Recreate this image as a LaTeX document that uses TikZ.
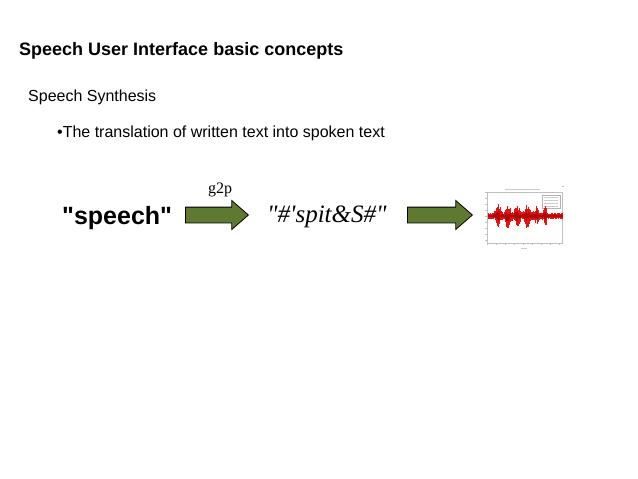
\documentclass[tikz,border=0pt]{standalone}
\usepackage{fontspec}
\setmainfont{Liberation Serif}
\setsansfont{Liberation Sans}
\newfontfamily\sfraw{Liberation Sans}
\newfontfamily\rmraw{Liberation Serif}
\usetikzlibrary{shapes.arrows}
\definecolor{olivearrow}{RGB}{95,121,48}
\definecolor{wavered}{RGB}{232,18,18}
\definecolor{wavedark}{RGB}{170,10,10}
\begin{document}
\begin{tikzpicture}[x=1pt,y=-1pt,
  bigarrow/.style={single arrow, draw=black, line width=0.8pt, fill=olivearrow,
    inner xsep=0pt, inner ysep=7.5pt, minimum height=63pt,
    single arrow head extend=6.5pt, single arrow tip angle=82, anchor=west},
  sans/.style={font=\sffamily, anchor=base west, inner sep=0pt}]
\useasboundingbox[fill=white] (0,0) rectangle (638,479);
% texts
\node[sans, font=\sffamily\bfseries\fontsize{18}{20}\selectfont] (title) at (19,55) {Speech User Interface basic concepts};
\node[sans, font=\sffamily\fontsize{16}{18}\selectfont] (sub) at (28,101) {Speech Synthesis};
\node[sans, font=\sffamily\fontsize{16}{18}\selectfont] (bul) at (57,137) {•The translation of written text into spoken text};
\node[sans, font=\sfraw\bfseries\fontsize{25}{28}\selectfont] (word) at (62,224) {"speech"};
\node[anchor=base west, inner sep=0pt, font=\rmraw\itshape\fontsize{25}{28}\selectfont] (phon) at (267,222) {"\#'spit\&S\#"};
\node[anchor=base west, inner sep=0pt, font=\fontsize{16}{18}\selectfont] (g2p) at (208,193) {g2p};
% arrows
\node[bigarrow] (a1) at (185,215) {};
\node[bigarrow, minimum height=65pt] (a2) at (407,215) {};
% waveform plot
\begin{scope}
\fill[white] (482,184) rectangle (566,252);
\draw[black!25, line width=0.4pt] (487,192) rectangle (562,243);
\node[inner sep=0pt] (plot) at (524,217) {};
\draw[black!20, line width=0.6pt] (505,189) -- (540,189);
\draw[black!30, line width=0.3pt] (542,195) rectangle (560,208);
\foreach \yy in {197,200,203,206}{\draw[black!20, line width=0.3pt] (544,\yy) -- (558,\yy);}
\foreach \xx in {487,496,505,514,523,532,541,550,559}{\draw[black!25,line width=0.3pt] (\xx,243) -- (\xx,245);}
\foreach \yy in {192,198,204,210,216,222,228,234,240}{\draw[black!25,line width=0.3pt] (485,\yy) -- (487,\yy);}
\draw[black!20, line width=0.5pt] (521,248) -- (527,248);
\draw[black!25, line width=0.4pt] (562,186) -- (564,186);
\pgfmathsetseed{11}
\foreach \i in {0,...,148}{
  \pgfmathsetmacro{\xx}{488+\i*0.5}
  \pgfmathsetmacro{\env}{3.5 + 13*exp(-((\xx-498)/2.3)^2) + 10*exp(-((\xx-508)/3)^2) + 9*exp(-((\xx-517)/2.6)^2) + 10*exp(-((\xx-527)/2.8)^2) + 7*exp(-((\xx-536)/2.2)^2) + 10*exp(-((\xx-545)/1.5)^2)}
  \pgfmathsetmacro{\up}{\env*(0.35+0.65*rnd)}
  \pgfmathsetmacro{\dn}{\env*(0.35+0.65*rnd)}
  \draw[wavered, line width=0.75pt] (\xx,216-\up) -- (\xx,216+\dn);
  \draw[wavedark, line width=0.4pt] (\xx,216-0.45*\up) -- (\xx,216+0.45*\dn);
}
\end{scope}
\end{tikzpicture}
\end{document}
